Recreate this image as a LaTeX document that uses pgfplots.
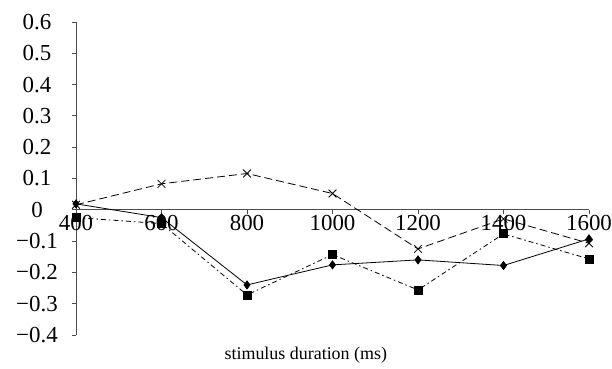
\documentclass[border=0pt]{standalone}
\usepackage{fontspec}
\setmainfont{Liberation Serif}
\usepackage{pgfplots}
\pgfplotsset{compat=1.18}
\begin{document}
\begin{tikzpicture}
\begin{axis}[
  scale only axis,
  width=513bp, height=313bp,
  xmin=400, xmax=1600, ymin=-0.4, ymax=0.6,
  axis x line=middle, axis y line=left,
  hide obscured x ticks=false,
  axis line style={-, black!70, line width=0.8bp},
  xtick={400,600,...,1600},
  ytick={-0.4,-0.3,-0.2,-0.1,0,0.1,0.2,0.3,0.4,0.5,0.6},
  yticklabels={−0.4,−0.3,−0.2,−0.1,0,0.1,0.2,0.3,0.4,0.5,0.6},
  tick align=outside,
  major tick length=4bp,
  tick style={black!70, line width=0.8bp},
  /pgf/number format/assume math mode=true,
  /pgf/number format/1000 sep={},
  xticklabel style={font=\fontsize{23}{25}\selectfont, anchor=north, inner sep=1bp},
  yticklabel style={font=\fontsize{23}{25}\selectfont, anchor=center, xshift=-35bp},
  xlabel={stimulus duration (ms)},
  xlabel style={font=\fontsize{18}{20}\selectfont, at={(axis description cs:0.448,-0.077)}, anchor=base},
  clip=false,
]
\coordinate (ll) at (rel axis cs:0,0);
\addplot[black, line width=0.8bp, mark=diamond*, mark size=4bp] coordinates {
 (400,0.019) (600,-0.025) (800,-0.24) (1000,-0.176) (1200,-0.16) (1400,-0.178) (1600,-0.093)};
\addplot[black, line width=0.8bp, dash pattern=on 5bp off 3bp on 1.5bp off 3bp, mark=square*, mark size=4bp, mark options={solid}] coordinates {
 (400,-0.025) (600,-0.044) (800,-0.272) (1000,-0.143) (1200,-0.256) (1400,-0.077) (1600,-0.157)};
\addplot[black, line width=0.8bp, dash pattern=on 8bp off 4bp, mark=x, mark size=5.5bp, mark options={solid}] coordinates {
 (400,0.016) (600,0.083) (800,0.116) (1000,0.052) (1200,-0.125) (1400,-0.029) (1600,-0.107)};
\end{axis}
\pgfresetboundingbox
\useasboundingbox (ll) ++(-76bp,-34bp) rectangle ++(612bp,369bp);
\end{tikzpicture}
\end{document}
